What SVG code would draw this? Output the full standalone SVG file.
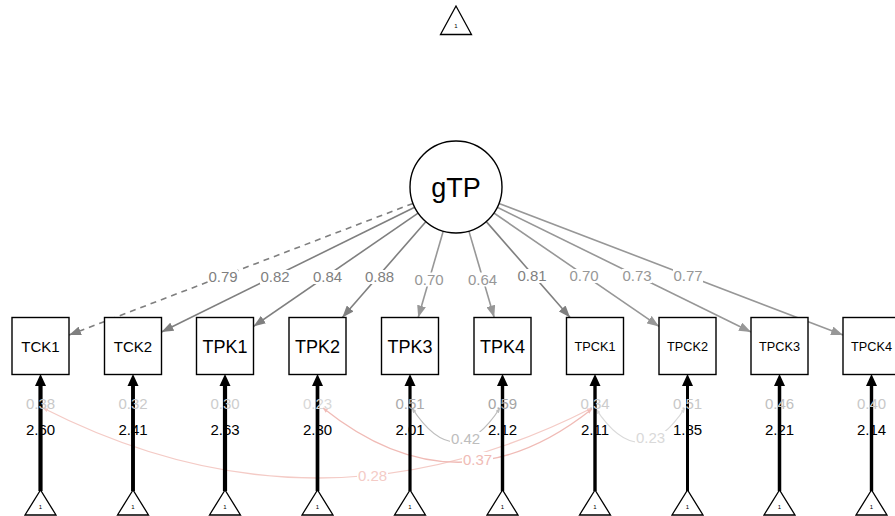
<svg xmlns="http://www.w3.org/2000/svg" width="895" height="516" viewBox="0 0 895 516">
  <style>
    text { font-family: "Liberation Sans", Arial, sans-serif; text-anchor: middle; }
    .box { fill: #ffffff; stroke: #000000; stroke-width: 1.4; }
    .tri { fill: #ffffff; stroke: #000000; stroke-width: 1.3; }
    .one { font-size: 6px; fill: #000000; }
    .load { fill: none; stroke-width: 1.6; }
    .dark { stroke: #7f7f7f; }
    .light { stroke: #979797; }
    .lbl-dark { fill: #7f7f7f; font-size: 15px; }
    .lbl-light { fill: #979797; font-size: 15px; }
    .bg { fill: #ffffff; }
    .res { font-size: 15px; }
    .int { font-size: 15px; fill: #000000; }
    .cov { fill: none; stroke-width: 1.3; }
  </style>
  <defs>
    <marker id="ah-dark" markerUnits="userSpaceOnUse" markerWidth="12" markerHeight="9" viewBox="0 0 12 9" refX="12" refY="4.5" orient="auto">
      <path d="M0,0 L12,4.5 L0,9 z" fill="#7f7f7f"/>
    </marker>
    <marker id="ah-light" markerUnits="userSpaceOnUse" markerWidth="12" markerHeight="9" viewBox="0 0 12 9" refX="12" refY="4.5" orient="auto">
      <path d="M0,0 L12,4.5 L0,9 z" fill="#979797"/>
    </marker>
    <marker id="cv-pink1" markerUnits="userSpaceOnUse" markerWidth="5" markerHeight="4" viewBox="0 0 5 4" refX="5" refY="2" orient="auto-start-reverse">
      <path d="M0,0 L5,2 L0,4 z" fill="#f4cbc6"/>
    </marker>
    <marker id="cv-pink2" markerUnits="userSpaceOnUse" markerWidth="5" markerHeight="4" viewBox="0 0 5 4" refX="5" refY="2" orient="auto-start-reverse">
      <path d="M0,0 L5,2 L0,4 z" fill="#f0bbb6"/>
    </marker>
    <marker id="cv-grey1" markerUnits="userSpaceOnUse" markerWidth="5" markerHeight="4" viewBox="0 0 5 4" refX="5" refY="2" orient="auto-start-reverse">
      <path d="M0,0 L5,2 L0,4 z" fill="#bdbdbd"/>
    </marker>
    <marker id="cv-grey2" markerUnits="userSpaceOnUse" markerWidth="5" markerHeight="4" viewBox="0 0 5 4" refX="5" refY="2" orient="auto-start-reverse">
      <path d="M0,0 L5,2 L0,4 z" fill="#d9d9d9"/>
    </marker>
  </defs>

  <rect width="895" height="516" fill="#ffffff"/>

  <!-- connectors: factor loadings, covariances, intercept paths -->
  <g id="connectors">
    <g id="loadings">
      <line class="load dark" x1="413.0" y1="203.4" x2="69" y2="335.1" stroke-dasharray="6,5" marker-end="url(#ah-dark)"/>
      <line class="load dark" x1="414.7" y1="207.3" x2="161.5" y2="332.0" marker-end="url(#ah-dark)"/>
      <line class="load dark" x1="418.1" y1="213.1" x2="253.5" y2="326.4" marker-end="url(#ah-dark)"/>
      <line class="load dark" x1="425.8" y1="221.7" x2="342.3" y2="317.5" marker-end="url(#ah-dark)"/>
      <line class="load light" x1="443.2" y1="231.2" x2="418.2" y2="317.5" marker-end="url(#ah-light)"/>
      <line class="load light" x1="468.9" y1="231.1" x2="494.2" y2="317.5" marker-end="url(#ah-light)"/>
      <line class="load dark" x1="486.3" y1="221.6" x2="570.1" y2="317.5" marker-end="url(#ah-dark)"/>
      <line class="load light" x1="493.9" y1="213.0" x2="659" y2="326.4" marker-end="url(#ah-light)"/>
      <line class="load light" x1="497.3" y1="207.3" x2="751" y2="332.0" marker-end="url(#ah-light)"/>
      <line class="load light" x1="499.0" y1="203.4" x2="843" y2="335.1" marker-end="url(#ah-light)"/>
    </g>
    <g id="loading-labels">
      <rect class="bg" x="208" y="270" width="30" height="14"/><text class="lbl-dark" x="223" y="282">0.79</text>
      <rect class="bg" x="260" y="270" width="30" height="14"/><text class="lbl-dark" x="275" y="282">0.82</text>
      <rect class="bg" x="312.5" y="270" width="30" height="14"/><text class="lbl-dark" x="327.5" y="282">0.84</text>
      <rect class="bg" x="364.5" y="270" width="30" height="14"/><text class="lbl-dark" x="379.5" y="282">0.88</text>
      <rect class="bg" x="414" y="272.5" width="30" height="14"/><text class="lbl-light" x="429" y="284.5">0.70</text>
      <rect class="bg" x="467.5" y="272.5" width="30" height="14"/><text class="lbl-light" x="482.5" y="284.5">0.64</text>
      <rect class="bg" x="517" y="269" width="30" height="14"/><text class="lbl-dark" x="532" y="281">0.81</text>
      <rect class="bg" x="569" y="269" width="30" height="14"/><text class="lbl-light" x="584" y="281">0.70</text>
      <rect class="bg" x="622" y="269" width="30" height="14"/><text class="lbl-light" x="637" y="281">0.73</text>
      <rect class="bg" x="673" y="269" width="30" height="14"/><text class="lbl-light" x="688" y="281">0.77</text>
    </g>

    <g id="covariances">
      <path class="cov" stroke="#f4cbc6" d="M43,408 Q317.5,548 592,408" marker-start="url(#cv-pink1)" marker-end="url(#cv-pink1)"/>
      <path class="cov" stroke="#f0bbb6" d="M323,408 Q457.5,516 592,409" marker-start="url(#cv-pink2)" marker-end="url(#cv-pink2)"/>
      <path class="cov" stroke="#bdbdbd" d="M412,408 Q456,476 500,408" marker-start="url(#cv-grey1)" marker-end="url(#cv-grey1)"/>
      <path class="cov" stroke="#d9d9d9" d="M596,409 Q640,476 685,408" marker-start="url(#cv-grey2)" marker-end="url(#cv-grey2)"/>
      <rect class="bg" x="357" y="469" width="31" height="14"/><text class="res" fill="#f4cbc6" x="372.5" y="481">0.28</text>
      <rect class="bg" x="462" y="452" width="31" height="14"/><text class="res" fill="#f0bbb6" x="477.5" y="464.5">0.37</text>
      <rect class="bg" x="450" y="432" width="31" height="14"/><text class="res" fill="#bdbdbd" x="465.5" y="444">0.42</text>
      <rect class="bg" x="635" y="431" width="31" height="14"/><text class="res" fill="#d9d9d9" x="650.5" y="443">0.23</text>
    </g>

    <g id="intercept-paths" fill="#000000" stroke="#000000">
      <line x1="40.5" y1="491" x2="40.5" y2="384" stroke-width="4.2"/><polygon points="40.5,374 35,386 46,386" stroke="none"/>
      <line x1="133" y1="491" x2="133" y2="384" stroke-width="3.9"/><polygon points="133,374 127.5,386 138.5,386" stroke="none"/>
      <line x1="225" y1="491" x2="225" y2="384" stroke-width="4.2"/><polygon points="225,374 219.5,386 230.5,386" stroke="none"/>
      <line x1="317.5" y1="491" x2="317.5" y2="384" stroke-width="3.7"/><polygon points="317.5,374 312,386 323,386" stroke="none"/>
      <line x1="410" y1="491" x2="410" y2="384" stroke-width="3.2"/><polygon points="410,374 404.5,386 415.5,386" stroke="none"/>
      <line x1="502.5" y1="491" x2="502.5" y2="384" stroke-width="3.4"/><polygon points="502.5,374 497,386 508,386" stroke="none"/>
      <line x1="595" y1="491" x2="595" y2="384" stroke-width="3.4"/><polygon points="595,374 589.5,386 600.5,386" stroke="none"/>
      <line x1="687.5" y1="491" x2="687.5" y2="384" stroke-width="3.0"/><polygon points="687.5,374 682,386 693,386" stroke="none"/>
      <line x1="779.5" y1="491" x2="779.5" y2="384" stroke-width="3.5"/><polygon points="779.5,374 774,386 785,386" stroke="none"/>
      <line x1="871.5" y1="491" x2="871.5" y2="384" stroke-width="3.4"/><polygon points="871.5,374 866,386 877,386" stroke="none"/>
    </g>

    <g id="residual-labels">
      <text class="res" fill="#c8c8c8" x="40.5" y="409">0.38</text>
      <text class="res" fill="#cbcbcb" x="133" y="409">0.32</text>
      <text class="res" fill="#cdcdcd" x="225" y="409">0.30</text>
      <text class="res" fill="#d8d8d8" x="317.5" y="409">0.23</text>
      <text class="res" fill="#aaaaaa" x="410" y="409">0.51</text>
      <text class="res" fill="#a5a5a5" x="502.5" y="409">0.59</text>
      <text class="res" fill="#cccccc" x="595" y="409">0.34</text>
      <text class="res" fill="#c8c8c8" x="687.5" y="409">0.51</text>
      <text class="res" fill="#c0c0c0" x="779.5" y="409">0.46</text>
      <text class="res" fill="#c8c8c8" x="871.5" y="409">0.40</text>
    </g>
    <g id="intercept-labels">
      <text class="int" x="40.5" y="435">2.60</text>
      <text class="int" x="133" y="435">2.41</text>
      <text class="int" x="225" y="435">2.63</text>
      <text class="int" x="317.5" y="435">2.30</text>
      <text class="int" x="410" y="435">2.01</text>
      <text class="int" x="502.5" y="435">2.12</text>
      <text class="int" x="595" y="435">2.11</text>
      <text class="int" x="687.5" y="435">1.85</text>
      <text class="int" x="779.5" y="435">2.21</text>
      <text class="int" x="871.5" y="435">2.14</text>
    </g>
  </g>

  <!-- latent factor and its intercept -->
  <g id="gTP">
    <circle cx="456" cy="187" r="46" fill="#ffffff" stroke="#000000" stroke-width="1.4"/>
    <text x="456" y="196.5" font-size="27">gTP</text>
  </g>
  <g id="int_gTP">
    <polygon class="tri" points="456,6 440.5,34.5 471.5,34.5"/>
    <text class="one" x="456" y="28">1</text>
  </g>

  <!-- observed indicators -->
  <g id="TCK1"><rect class="box" x="12" y="317.5" width="57" height="57"/><text x="40.5" y="351.5" font-size="15">TCK1</text></g>
  <g id="TCK2"><rect class="box" x="104.5" y="317.5" width="57" height="57"/><text x="133" y="351.5" font-size="15">TCK2</text></g>
  <g id="TPK1"><rect class="box" x="196.5" y="317.5" width="57" height="57"/><text x="225" y="353" font-size="18">TPK1</text></g>
  <g id="TPK2"><rect class="box" x="289" y="317.5" width="57" height="57"/><text x="317.5" y="353" font-size="18">TPK2</text></g>
  <g id="TPK3"><rect class="box" x="381.5" y="317.5" width="57" height="57"/><text x="410" y="353" font-size="18">TPK3</text></g>
  <g id="TPK4"><rect class="box" x="474" y="317.5" width="57" height="57"/><text x="502.5" y="353" font-size="18">TPK4</text></g>
  <g id="TPCK1"><rect class="box" x="566.5" y="317.5" width="57" height="57"/><text x="595" y="350.5" font-size="12.7">TPCK1</text></g>
  <g id="TPCK2"><rect class="box" x="659" y="317.5" width="57" height="57"/><text x="687.5" y="350.5" font-size="12.7">TPCK2</text></g>
  <g id="TPCK3"><rect class="box" x="751" y="317.5" width="57" height="57"/><text x="779.5" y="350.5" font-size="12.7">TPCK3</text></g>
  <g id="TPCK4"><rect class="box" x="843" y="317.5" width="57" height="57"/><text x="871.5" y="350.5" font-size="12.7">TPCK4</text></g>

  <!-- intercept triangles for indicators -->
  <g id="int_TCK1"><polygon class="tri" points="40.5,490 25,515 56,515"/><text class="one" x="40.5" y="509">1</text></g>
  <g id="int_TCK2"><polygon class="tri" points="133,490 117.5,515 148.5,515"/><text class="one" x="133" y="509">1</text></g>
  <g id="int_TPK1"><polygon class="tri" points="225,490 209.5,515 240.5,515"/><text class="one" x="225" y="509">1</text></g>
  <g id="int_TPK2"><polygon class="tri" points="317.5,490 302,515 333,515"/><text class="one" x="317.5" y="509">1</text></g>
  <g id="int_TPK3"><polygon class="tri" points="410,490 394.5,515 425.5,515"/><text class="one" x="410" y="509">1</text></g>
  <g id="int_TPK4"><polygon class="tri" points="502.5,490 487,515 518,515"/><text class="one" x="502.5" y="509">1</text></g>
  <g id="int_TPCK1"><polygon class="tri" points="595,490 579.5,515 610.5,515"/><text class="one" x="595" y="509">1</text></g>
  <g id="int_TPCK2"><polygon class="tri" points="687.5,490 672,515 703,515"/><text class="one" x="687.5" y="509">1</text></g>
  <g id="int_TPCK3"><polygon class="tri" points="779.5,490 764,515 795,515"/><text class="one" x="779.5" y="509">1</text></g>
  <g id="int_TPCK4"><polygon class="tri" points="871.5,490 856,515 887,515"/><text class="one" x="871.5" y="509">1</text></g>
</svg>
